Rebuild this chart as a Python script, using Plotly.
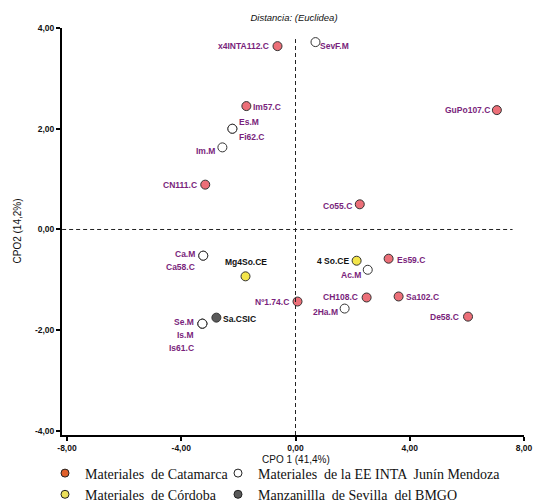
import plotly.graph_objects as go

# ---------------- data ----------------
x_tickvals = [-8, -4, 0, 4, 8]
x_ticktext = ["-8,00", "-4,00", "0,00", "4,00", "8,00"]
y_tickvals = [-4, -2, 0, 2, 4]
y_ticktext = ["-4,00", "-2,00", "0,00", "2,00", "4,00"]

catamarca_names = ["x4INTA112.C", "Im57.C", "Fi62.C", "CN111.C", "GuPo107.C", "Co55.C",
                   "Es59.C", "CH108.C", "Sa102.C", "De58.C", "Ca58.C", "Nº1.74.C", "Is61.C"]
catamarca_x = [-0.63, -1.72, -2.21, -3.16, 7.05, 2.25, 3.26, 2.49, 3.61, 6.04, -3.23, 0.07, -3.26]
catamarca_y = [3.64, 2.45, 2.00, 0.89, 2.37, 0.50, -0.58, -1.35, -1.33, -1.73, -0.52, -1.43, -1.87]

mendoza_names = ["SevF.M", "Es.M", "Im.M", "Ac.M", "2Ha.M", "Ca.M", "Se.M", "Is.M"]
mendoza_x = [0.70, -2.21, -2.56, 2.53, 1.72, -3.23, -3.26, -3.26]
mendoza_y = [3.72, 2.00, 1.63, -0.80, -1.57, -0.52, -1.87, -1.87]

cordoba_names = ["4 So.CE", "Mg4So.CE"]
cordoba_x = [2.14, -1.75]
cordoba_y = [-0.62, -0.93]

sevilla_names = ["Sa.CSIC"]
sevilla_x = [-2.77]
sevilla_y = [-1.75]

group_names = ["Materiales  de Catamarca",
               "Materiales  de la EE INTA  Junín Mendoza",
               "Materiales  de Córdoba",
               "Manzanillla  de Sevilla  del BMGO"]

x_title = "CPO 1 (41,4%)"
y_title = "CPO2 (14,2%)"
chart_title = "Distancia: (Euclidea)"

# ---------------- styles ----------------
PURPLE = "#7a1f7c"
label_style = {
    # name: (xanchor, xshift, yshift)
    "x4INTA112.C": ("right", -7, 0), "SevF.M": ("left", 3, -4), "Im57.C": ("left", 5, -1),
    "Es.M": ("left", 5, 7), "Fi62.C": ("left", 5, -8), "Im.M": ("right", -5, -4),
    "CN111.C": ("right", -6, 0), "GuPo107.C": ("right", -5, 0), "Co55.C": ("right", -6, -2),
    "4 So.CE": ("right", -6, 0), "Es59.C": ("left", 6, -1), "Ac.M": ("right", -5, -5),
    "CH108.C": ("right", -7, 0), "Sa102.C": ("left", 5, -1), "2Ha.M": ("right", -5, -3),
    "De58.C": ("right", -7, 0), "Ca.M": ("right", -6, 2), "Ca58.C": ("right", -6, -11),
    "Mg4So.CE": ("center", 0, 14), "Nº1.74.C": ("right", -7, 0), "Sa.CSIC": ("left", 5, -1),
    "Se.M": ("right", -6, 2), "Is.M": ("right", -6, -11), "Is61.C": ("right", -6, -24),
}

# (names, x, y, plot fill, legend fill, label colour, legend column)
groups = [
    (catamarca_names, catamarca_x, catamarca_y, "#ec6f78", "#e0602b", PURPLE, "legend"),
    (mendoza_names, mendoza_x, mendoza_y, "#ffffff", "#ffffff", PURPLE, "legend2"),
    (cordoba_names, cordoba_x, cordoba_y, "#f3e54a", "#ebe05a", "#111111", "legend"),
    (sevilla_names, sevilla_x, sevilla_y, "#5a5a5a", "#5a5a5a", "#111111", "legend2"),
]

fig = go.Figure()
annotations = []
LABEL_FONT = dict(family="Liberation Sans, Arial", size=8.5)
AX_FONT = dict(family="Liberation Sans, Arial", size=10, color="#111111")

for (names, xs, ys, fill, legfill, tcol, leg), gname in zip(groups, group_names):
    fig.add_trace(go.Scatter(
        x=xs, y=ys, mode="markers", showlegend=False, hoverinfo="text", text=names,
        marker=dict(size=9, color=fill, line=dict(color="#333333", width=1)),
    ))
    for n, xv, yv in zip(names, xs, ys):
        anc, dx, dy = label_style[n]
        annotations.append(dict(
            x=xv, y=yv, xref="x", yref="y", text="<b>" + n + "</b>", showarrow=False,
            xanchor=anc, yanchor="middle", xshift=dx, yshift=dy,
            font=dict(color=tcol, **LABEL_FONT),
        ))

# legend-only entries
for (names, xs, ys, fill, legfill, tcol, leg), gname in zip(groups, group_names):
    fig.add_trace(go.Scatter(
        x=[None], y=[None], mode="markers", name=gname, showlegend=True, legend=leg,
        marker=dict(size=8, color=legfill, line=dict(color="#222222", width=1)),
    ))

# axis titles
annotations.append(dict(x=0.5065, y=0, xref="paper", yref="paper", yshift=-24,
                        text=x_title, showarrow=False, xanchor="center", yanchor="middle",
                        font=AX_FONT))
annotations.append(dict(x=0, y=0.5, xref="paper", yref="paper", xshift=-45,
                        text=y_title, showarrow=False, xanchor="center", yanchor="middle",
                        textangle=-90, font=AX_FONT))

fig.add_shape(type="line", x0=0, x1=0, y0=-4.08, y1=3.78, xref="x", yref="y",
              line=dict(color="#222222", width=1, dash="4px,3px"))
fig.add_shape(type="line", x0=-8.17, x1=7.6, y0=0, y1=0, xref="x", yref="y",
              line=dict(color="#222222", width=1, dash="4px,3px"))

TICK_FONT = dict(family="Liberation Sans, Arial", size=8.5, color="#111111", weight="bold")
LEG_FONT = dict(family="Liberation Serif, Times New Roman", size=14, color="#111111")

fig.update_layout(
    width=536, height=503,
    margin=dict(l=62, r=12, t=28, b=68, autoexpand=False),
    paper_bgcolor="white", plot_bgcolor="white",
    annotations=annotations,
    title=dict(text="<i>" + chart_title + "</i>", x=294 / 536, y=1 - 18 / 503,
               xref="container", yref="container", xanchor="center", yanchor="middle",
               font=dict(family="Liberation Sans, Arial", size=9.5, color="#111111")),
    showlegend=True,
    legend=dict(
        orientation="v", xref="container", yref="container",
        x=45 / 536, xanchor="left", y=1 - 484 / 503, yanchor="middle",
        font=LEG_FONT, itemwidth=30, bgcolor="rgba(0,0,0,0)", tracegroupgap=0,
    ),
    legend2=dict(
        orientation="v", xref="container", yref="container",
        x=218 / 536, xanchor="left", y=1 - 484 / 503, yanchor="middle",
        font=LEG_FONT, itemwidth=30, bgcolor="rgba(0,0,0,0)", tracegroupgap=0,
    ),
    xaxis=dict(
        range=[-8.175, 8], tickvals=x_tickvals, ticktext=x_ticktext,
        showgrid=False, zeroline=False, showline=True, linecolor="black", linewidth=2,
        ticks="outside", ticklen=4, tickwidth=1.5, tickcolor="black",
        tickfont=TICK_FONT,
    ),
    yaxis=dict(
        range=[-4.08, 4], tickvals=y_tickvals, ticktext=y_ticktext,
        showgrid=False, zeroline=False, showline=True, linecolor="black", linewidth=2,
        ticks="outside", ticklen=4, tickwidth=1.5, tickcolor="black",
        tickfont=TICK_FONT,
    ),
)

fig.write_html("out.html")
